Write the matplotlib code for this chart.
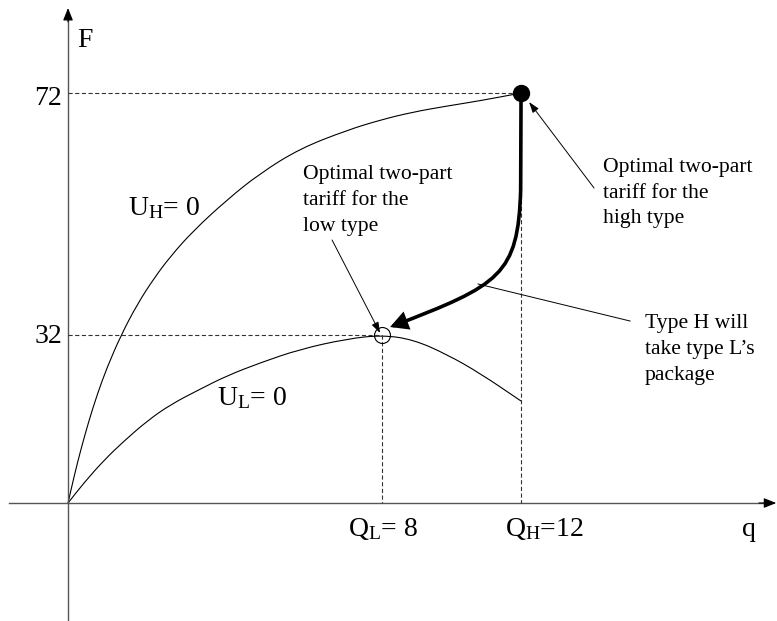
import matplotlib
matplotlib.use("Agg")
import matplotlib.pyplot as plt
from matplotlib.patches import FancyArrowPatch, PathPatch
from matplotlib.path import Path

plt.rcParams['font.family'] = ['Liberation Serif', 'DejaVu Serif']
plt.rcParams['mathtext.fontset'] = 'custom'
plt.rcParams['mathtext.rm'] = 'Liberation Serif'
plt.rcParams['mathtext.it'] = 'Liberation Serif:italic'
plt.rcParams['lines.scale_dashes'] = False

# points, in diagram units (q along x, F along y)
uh_q = [0, 0.153, 0.324, 0.535, 0.746, 1.001, 1.358, 1.766, 2.191, 2.617, 3.185, 4.051,
        4.892, 5.911, 7.108, 7.949, 8.790, 9.656, 10.497, 11.54]
uh_f = [0, 4.64, 9.34, 14.52, 19.11, 23.94, 29.59, 34.93, 39.48, 43.38, 47.77, 53.27,
        57.90, 62.26, 65.47, 67.26, 68.67, 69.72, 70.65, 72.0]

ul_q = [0, 0.408, 0.917, 1.427, 2.020, 2.617, 3.363, 4.043, 4.892, 5.911, 7.101, 8.0,
        8.797, 9.648, 10.497, 11.54]
ul_f = [0, 3.57, 7.53, 10.89, 14.44, 17.32, 19.99, 22.34, 24.62, 27.01, 28.82, 29.5,
        28.70, 26.11, 22.78, 17.91]

# the two packages
q_low, f_low = 8.0, 29.5
q_high, f_high = 11.54, 72.0
tick_labels_f = ["72", "32"]
label_ql = r"Q$_\mathrm{L}$= 8"
label_qh = r"Q$_\mathrm{H}$=12"

# thick arrow from the high package to the low package (start, bezier, tip)
move_q = [11.54, 11.53, 11.465, 11.006, 8.204]
move_f = [72.0, 54.97, 40.04, 38.29, 30.91]


def smooth_path(xs, ys):
    # quadratic spline through the midpoints, ends pinned to the first/last point
    pts = list(zip(xs, ys))
    mids = [((a[0] + b[0]) / 2, (a[1] + b[1]) / 2) for a, b in zip(pts[:-1], pts[1:])]
    verts = [pts[0], mids[0]]
    codes = [Path.MOVETO, Path.LINETO]
    for i in range(1, len(pts) - 1):
        verts += [pts[i], mids[i]]
        codes += [Path.CURVE3, Path.CURVE3]
    verts.append(pts[-1])
    codes.append(Path.LINETO)
    return Path(verts, codes)


fig = plt.figure(figsize=(7.77, 6.21), dpi=100)
ax = fig.add_axes([0, 0, 1, 1])
ax.set_xlim(-1.733, 18.06)
ax.set_ylim(-20.72, 88.34)
ax.axis('off')

# axes with arrow heads
axis_col = '#555555'
ax.plot([-1.50, 17.9], [0, 0], color=axis_col, lw=1.0)
ax.plot([0, 0], [-20.72, 86.0], color=axis_col, lw=1.0)
head = dict(arrowstyle='-|>,head_length=0.75,head_width=0.3', color='black',
            lw=0.8, mutation_scale=10, shrinkA=0, shrinkB=0)
ax.annotate('', xy=(18.04, 0), xytext=(17.6, 0), arrowprops=head)
ax.annotate('', xy=(0, 86.93), xytext=(0, 84.5), arrowprops=head)

# dashed guide lines
dash = dict(color='#333333', lw=0.8, ls=(0, (3, 1.8)))
ax.plot([0, q_high], [f_high, f_high], **dash)
ax.plot([q_high, q_high], [f_high, 0], **dash)
ax.plot([0, q_low], [f_low, f_low], **dash)
ax.plot([q_low, q_low], [f_low, 0], **dash)

# participation curves
for qs, fs in [(uh_q, uh_f), (ul_q, ul_f)]:
    ax.add_patch(PathPatch(smooth_path(qs, fs), fc='none', ec='black', lw=0.8))

# package markers
ax.plot([q_high], [f_high], 'o', color='black', ms=11.5, zorder=5)
ax.plot([q_low], [f_low], 'o', mfc='none', mec='black', mew=0.8, ms=11.5, zorder=5)

# thick curved arrow
verts = list(zip(move_q, move_f))
codes = [Path.MOVETO, Path.LINETO, Path.CURVE4, Path.CURVE4, Path.CURVE4]
big = FancyArrowPatch(path=Path(verts, codes),
                      arrowstyle='-|>,head_length=0.9,head_width=0.48',
                      mutation_scale=10, lw=2.6, color='black', zorder=6,
                      joinstyle='miter')
ax.add_patch(big)

# thin annotation arrows
thin = dict(arrowstyle='-|>,head_length=0.65,head_width=0.22', color='black',
            lw=0.7, mutation_scale=10, shrinkA=0, shrinkB=0)
ax.annotate('', xy=(11.745, 70.42), xytext=(13.40, 55.32), arrowprops=thin)
ax.annotate('', xy=(7.949, 29.86), xytext=(6.726, 46.19), arrowprops=thin)
ax.plot([10.446, 14.318], [38.46, 31.96], color='black', lw=0.7)

# labels
big_fs = 20
ax.text(0.229, 80.0, "F", fontsize=big_fs, va='baseline', ha='left')
ax.text(-0.153, 69.9, tick_labels_f[0], fontsize=big_fs, va='baseline', ha='right')
ax.text(-0.153, 28.1, tick_labels_f[1], fontsize=big_fs, va='baseline', ha='right')
ax.text(17.17, -5.8, "q", fontsize=big_fs, va='baseline', ha='left')
ax.text(7.134, -5.8, label_ql, fontsize=big_fs, va='baseline', ha='left')
ax.text(11.13, -5.8, label_qh, fontsize=big_fs, va='baseline', ha='left')
ax.text(1.529, 50.58, r"U$_\mathrm{H}$= 0", fontsize=big_fs, va='baseline', ha='left')
ax.text(3.79, 17.21, r"U$_\mathrm{L}$= 0", fontsize=big_fs, va='baseline', ha='left')

# multi-line notes: y is the baseline of the last line
small_fs = 15.6
ax.text(13.63, 49.1, "Optimal two-part\ntariff for the\nhigh type", fontsize=small_fs,
        va='baseline', ha='left', linespacing=1.49)
ax.text(5.994, 47.8, "Optimal two-part\ntariff for the\nlow type", fontsize=small_fs,
        va='baseline', ha='left', linespacing=1.49)
ax.text(14.70, 21.6, "Type H will\ntake type L\u2019s\npackage", fontsize=small_fs,
        va='baseline', ha='left', linespacing=1.49)

fig.savefig("out.png", dpi=100)
